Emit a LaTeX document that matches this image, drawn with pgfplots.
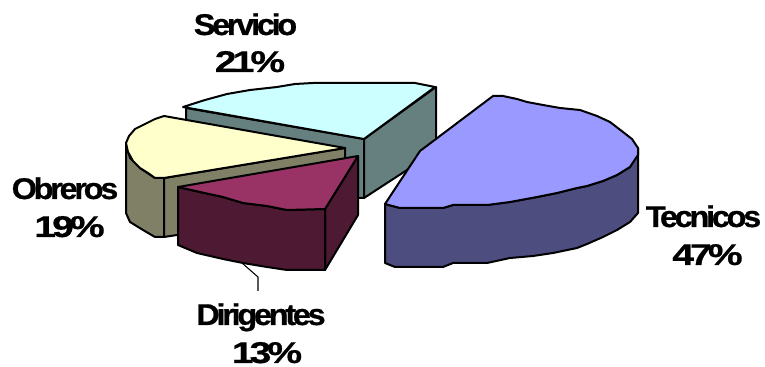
\documentclass[border=0pt]{standalone}
\usepackage{fontspec}
\usepackage{pgfplots}
\pgfplotsset{compat=1.18}
\setmainfont{Liberation Sans}
\newfontface\lblfont[LetterSpace=-10.0,FakeBold=0.6]{Liberation Sans Bold}
% Slice colours: top faces and darker side faces
\definecolor{tecTop}{HTML}{9999FF}
\definecolor{tecSide}{HTML}{4D4D80}
\definecolor{serTop}{HTML}{CCFFFF}
\definecolor{serSide}{HTML}{668080}
\definecolor{obrTop}{HTML}{FFFFCC}
\definecolor{obrSide}{HTML}{808066}
\definecolor{dirTop}{HTML}{993366}
\definecolor{dirSide}{HTML}{4D1933}
\pgfplotsset{face/.style={draw=black,line width=1.5pt,line join=round,fill=#1}}
\newcommand{\lbl}[4][1.08]{\node[font=\lblfont\fontsize{22.5}{27}\selectfont,anchor=base,inner sep=0pt,xscale=#1] at (axis cs:#2,#3) {#4};}
\begin{document}
\begin{tikzpicture}
\begin{axis}[
  scale only axis,width=573.75pt,height=275.25pt,
  xmin=0,xmax=765,ymin=0,ymax=367,y dir=reverse,
  hide axis,clip=false]

% Servicio
\addplot[face=serSide] coordinates {(186,108)(364,139)(364,198)(350,198)(186,138)} -- cycle;
\addplot[face=serSide] coordinates {(364,139)(436,87)(436,140)(407,170)(364,198)} -- cycle;
\addplot[face=serTop] coordinates {(183,107)(205,100)(227,94)(250,90)(277,87)(295,84)(313,83)(415,83)(435,87)(364,139)} -- cycle;

% Obreros
\addplot[face=obrSide] coordinates {(126,143)(126,213)(130,222)(143,230)(155,237)(164,237)(164,178)(155,178)(140,168)(130,158)} -- cycle;
\addplot[face=obrSide] coordinates {(164,178)(345,148)(345,157)(345,190)(177,235)(164,237)} -- cycle;
\addplot[face=obrTop] coordinates {(164,116)(155,119)(147,123)(135,129)(129,136)(126,143)(128,152)(133,161)(140,168)(148,173)(155,178)(164,178)(345,148)} -- cycle;

% Dirigentes
\addplot[face=dirSide] coordinates {(325,209)(358,156)(358,215)(325,270)} -- cycle;
\addplot[face=dirSide] coordinates {(178,187)(178,245)(197,253)(223,259)(243,263)(267,267)(287,270)(325,270)(325,209)(287,210)(267,206)(243,203)(223,197)(200,192)} -- cycle;
\addplot[face=dirTop] coordinates {(178,187)(358,156)(325,209)(287,210)(267,206)(243,203)(223,197)(200,192)} -- cycle;
\addplot[black,line width=0.8pt] coordinates {(242,263)(258,277)(258,291)};

% Tecnicos
\addplot[face=tecSide] coordinates {(385,204)(385,263)(395,267)(443,267)(453,263)(487,263)(510,258)(533,256)(553,253)(577,248)(587,244)(603,237)(617,230)(630,222)(638,213)(638,148)(630,167)(617,175)(603,181)(587,186)(577,188)(557,193)(537,197)(510,202)(487,205)(453,205)(443,208)(400,208)} -- cycle;
\addplot[face=tecTop] coordinates {(493,96)(503,96)(517,99)(527,102)(543,105)(560,108)(580,110)(597,116)(610,122)(623,132)(632,139)(638,148)(638,155)(630,167)(617,175)(603,181)(587,186)(577,188)(557,193)(537,197)(510,202)(487,205)(453,205)(443,208)(400,208)(385,204)(420,151)} -- cycle;

% Slice labels
\lbl{245.5}{35}{Servicio}
\lbl[1.3]{250}{72}{21\%}
\lbl{703.5}{227}{Tecnicos}
\lbl[1.3]{707.5}{265}{47\%}
\lbl{65}{199}{Obreros}
\lbl[1.3]{69.5}{237}{19\%}
\lbl{261}{325}{Dirigentes}
\lbl[1.3]{267}{363}{13\%}
\end{axis}
\pgfresetboundingbox
\path[use as bounding box] (0,0) rectangle (573.75pt,275.25pt);
\end{tikzpicture}
\end{document}
